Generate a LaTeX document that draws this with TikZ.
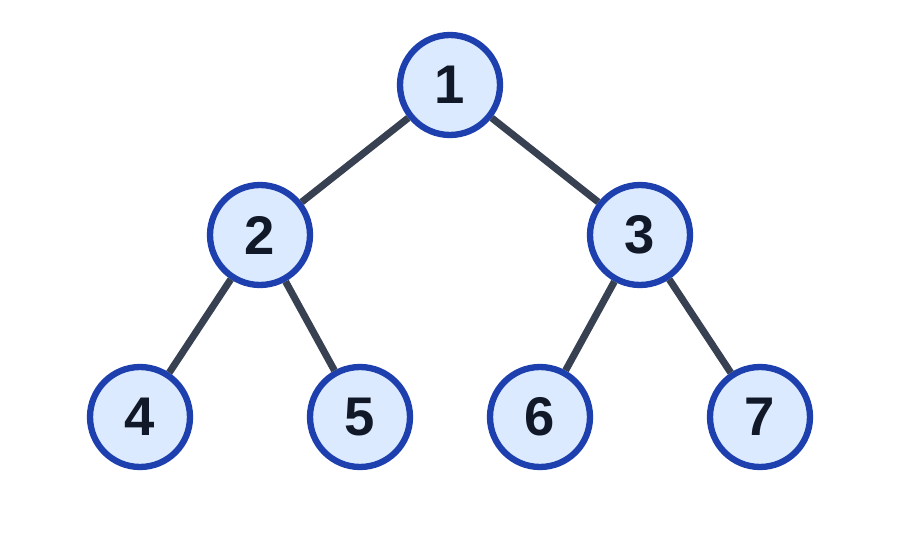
\documentclass[tikz,border=0pt]{standalone}
\usepackage{fontspec}
\setmainfont{Liberation Sans}
\usepackage{tikz}
\usetikzlibrary{positioning}

\definecolor{nodefill}{HTML}{DBEAFE}
\definecolor{nodeline}{HTML}{1E40AF}
\definecolor{edgeline}{HTML}{374151}
\definecolor{labeltext}{HTML}{111827}

\begin{document}
\begin{tikzpicture}[x=0.02cm,y=-0.02cm]
%            1
%          /   \
%         2     3
%        / \   / \
%       4   5 6   7
    \tikzstyle{treenode}=[circle, draw=nodeline, fill=nodefill, line width=3.6pt,
        minimum size=2cm, inner sep=0pt, font=\fontsize{31}{31}\selectfont\bfseries, text=labeltext]
    \useasboundingbox (0,0) rectangle (900,560);

    \node[treenode] (n1) at (450,85) {1};
    \node[treenode] (n2) at (260,235) {2};
    \node[treenode] (n3) at (640,235) {3};
    % leaves
    \node[treenode] (n4) at (140,417) {4};
    \node[treenode] (n5) at (360,417) {5};
    \node[treenode] (n6) at (540,417) {6};
    \node[treenode] (n7) at (760,417) {7};

    \path[draw=edgeline, line width=4pt]
          (n1) edge (n2)
          (n1) edge (n3)
          (n2) edge (n4)
          (n2) edge (n5)
          (n3) edge (n6)
          (n3) edge (n7);
\end{tikzpicture}
\end{document}
